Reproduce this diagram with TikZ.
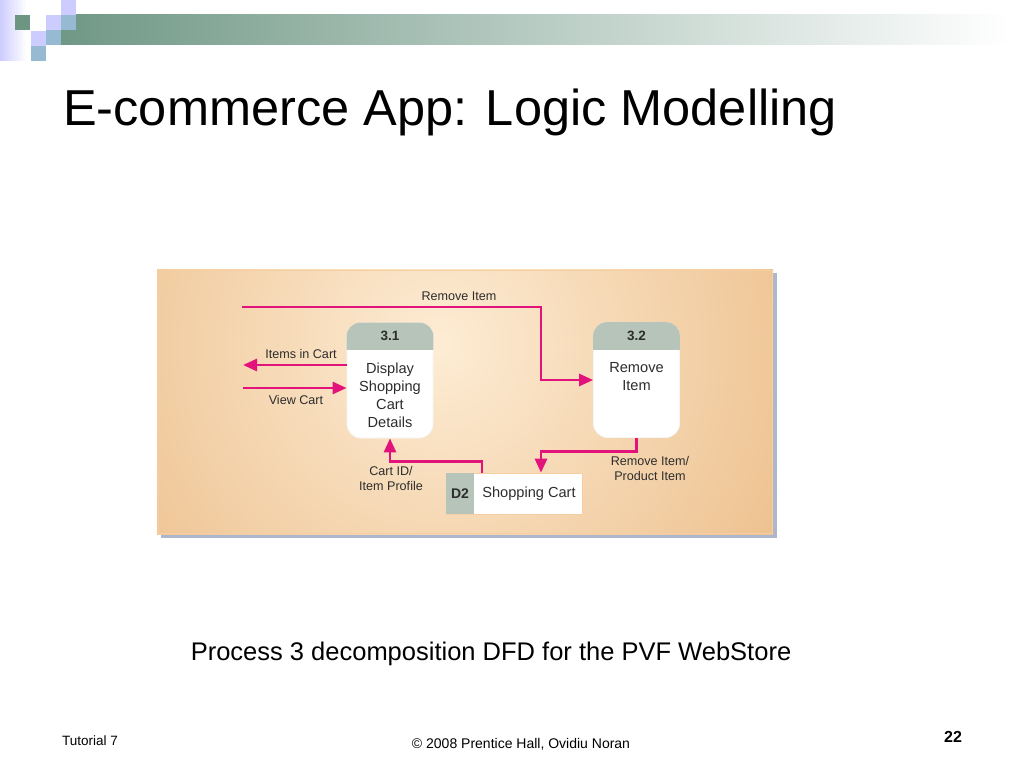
\documentclass[tikz,border=0pt]{standalone}
\usepackage{fontspec}
\setmainfont{Liberation Sans}
\usetikzlibrary{arrows.meta}
\definecolor{barGreen}{RGB}{112,152,134}
\definecolor{sqGreen}{RGB}{108,150,130}
\definecolor{sqLav}{RGB}{204,204,255}
\definecolor{sqBlue}{RGB}{150,186,210}
\definecolor{peachOut}{RGB}{236,190,138}
\definecolor{peachIn}{RGB}{253,236,212}
\definecolor{peachEdge}{RGB}{246,206,160}
\definecolor{shadowC}{RGB}{172,182,204}
\definecolor{hdrC}{RGB}{182,196,186}
\definecolor{flowC}{RGB}{226,20,124}
\definecolor{txtC}{RGB}{45,45,45}
\tikzset{
  flow/.style={draw=flowC, line width=2.8pt, -{Triangle[length=14pt,width=12pt]}},
  procbox/.style={draw=white!85!hdrC, line width=0.8pt, fill=white, rounded corners=14pt, minimum width=86pt, minimum height=115pt, inner sep=0pt},
  storebox/.style={fill=white, draw=peachEdge, line width=0.6pt, minimum width=136pt, minimum height=41pt, inner sep=0pt},
  lbl/.style={text=txtC, font=\fontsize{12.6}{15}\selectfont, align=center, inner sep=0pt},
  ptxt/.style={text=txtC, font=\fontsize{14.6}{18}\selectfont, align=center, inner sep=0pt},
  pid/.style={text=txtC, font=\fontsize{13.5}{16}\selectfont\bfseries, inner sep=0pt},
}
\begin{document}
\begin{tikzpicture}[x=1pt,y=-1pt]
\useasboundingbox (0,0) rectangle (1024,768);
\fill[white] (0,0) rectangle (1024,768);
% header decoration
\shade[left color=sqLav, right color=white] (0,0) rectangle (26,60);
\shade[left color=barGreen, right color=white] (61,15) rectangle (1010,45);
\fill[sqGreen] (15,15) rectangle (30,30);
\fill[sqLav] (31,31) rectangle (46,46);
\fill[sqBlue] (31,46) rectangle (46,61);
\fill[sqLav] (46,15) rectangle (61,30);
\fill[sqBlue] (46,30) rectangle (61,45);
\fill[sqLav] (61,0) rectangle (76,15);
\fill[sqBlue] (61,15) rectangle (76,30);
% title
\node[anchor=base west, inner sep=0pt, font=\fontsize{50.5}{60}\selectfont] (title) at (63,125) {E-commerce App: Logic Modelling};
% diagram background
\fill[shadowC] (161,273) rectangle (777,538);
\begin{scope}
\clip (157,269) rectangle (773,534);
\shade[inner color=peachIn, outer color=peachOut] (440,345) circle (420);
\end{scope}
\draw[peachEdge, line width=1pt] (158,270) rectangle (772,533);
% processes
\node[procbox] (p31) at (390,380.5) {};
\begin{scope}
\clip (340,318) rectangle (440,349);
\fill[hdrC, rounded corners=14pt] (p31.north west) rectangle (p31.south east);
\end{scope}
\node[pid] (p31id) at (390,336) {3.1};
\node[ptxt] (p31t) at (390,395) {Display\\Shopping\\Cart\\Details};
\node[procbox] (p32) at (636.5,380) {};
\begin{scope}
\clip (585,318) rectangle (690,349);
\fill[hdrC, rounded corners=14pt] (p32.north west) rectangle (p32.south east);
\end{scope}
\node[pid] (p32id) at (636.5,336) {3.2};
\node[ptxt] (p32t) at (636.5,377) {Remove\\Item};
% data store
\node[storebox] (d2) at (514,493.5) {};
\fill[hdrC] (d2.north west) rectangle (474,514);
\node[pid, font=\fontsize{14}{16}\selectfont\bfseries] (d2id) at (460,494) {D2};
\node[ptxt] (d2t) at (529,494) {Shopping Cart};
% flows
\coordinate (ri0) at (242,307);
\coordinate (riturn) at (541,307);
\coordinate (iic) at (243,365);
\coordinate (vc) at (243,388);
\draw[flow] (ri0) -- (riturn) |- (p32.west);
\draw[flow] (p31.west |- iic) -- (iic);
\draw[flow] (vc) -- (p31.west |- vc);
\draw[flow] ([xshift=-32pt]d2.north) |- ([yshift=-23pt]p31.south) -- (p31.south);
\draw[flow] (p32.south) |- ([xshift=27pt,yshift=21pt]d2.north) -- ([xshift=27pt]d2.north);
% labels
\node[lbl] (lri) at (459,296) {Remove Item};
\node[lbl] (liic) at (301,354) {Items in Cart};
\node[lbl] (lvc) at (296,400) {View Cart};
\node[lbl] (lcid) at (391,478.5) {Cart ID/\\Item Profile};
\node[lbl] (lrp) at (650,468.5) {Remove Item/\\Product Item};
% caption and footer
\node[inner sep=0pt, font=\fontsize{25.5}{30}\selectfont] (cap) at (491,654) {Process 3 decomposition DFD for the PVF WebStore};
\node[anchor=base west, inner sep=0pt, font=\fontsize{13.5}{16}\selectfont] (ftl) at (62,745) {Tutorial 7};
\node[anchor=base, inner sep=0pt, font=\fontsize{14}{16}\selectfont] (ftc) at (521,748) {© 2008 Prentice Hall, Ovidiu Noran};
\node[anchor=base, inner sep=0pt, font=\fontsize{16}{18}\selectfont\bfseries] (ftr) at (953,742) {22};
\end{tikzpicture}
\end{document}
